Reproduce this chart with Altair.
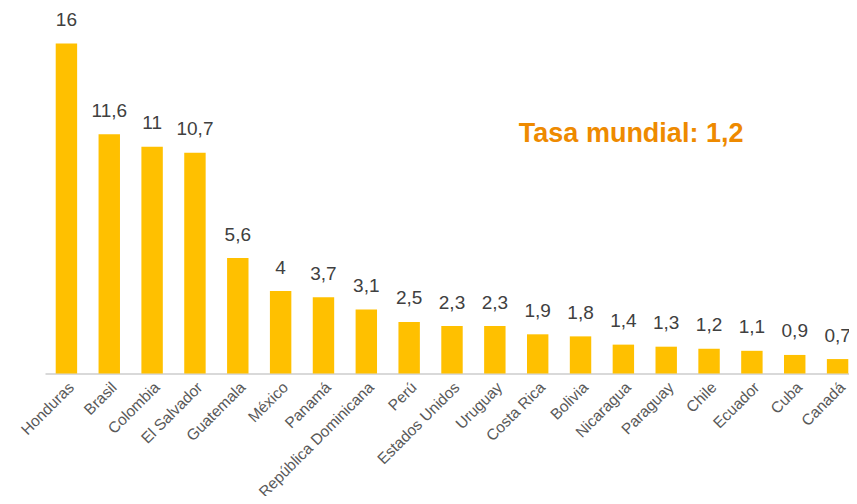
import altair as alt
import pandas as pd

countries = ["Honduras", "Brasil", "Colombia", "El Salvador", "Guatemala", "México",
             "Panamá", "República Dominicana", "Perú", "Estados Unidos", "Uruguay",
             "Costa Rica", "Bolivia", "Nicaragua", "Paraguay", "Chile", "Ecuador",
             "Cuba", "Canadá"]
rates = [16, 11.6, 11, 10.7, 5.6, 4, 3.7, 3.1, 2.5, 2.3, 2.3, 1.9, 1.8, 1.4, 1.3,
         1.2, 1.1, 0.9, 0.7]
labels = [str(v).replace(".", ",") for v in rates]

world_rate = 1.2
annot_category = ["Uruguay"]
annot_y = [11.24]
annot_text = ["Tasa mundial: " + str(world_rate).replace(".", ",")]

df = pd.DataFrame({"pais": countries, "tasa": rates, "label": labels})
adf = pd.DataFrame({"pais": annot_category, "y": annot_y, "text": annot_text})

FONT = "Liberation Sans"

x_scale = alt.Scale(paddingInner=0.5, paddingOuter=0.25)
x_enc = alt.X("pais:N", sort=countries, title=None, scale=x_scale,
              axis=alt.Axis(labelAngle=-45, labelFontSize=15.5, labelColor="#595959",
                            labelFont=FONT, ticks=False, domainColor="#D9D9D9",
                            domainWidth=2, labelPadding=6, labelLimit=300))
y_scale = alt.Scale(domain=[0, 16], nice=False)

bars = alt.Chart(df).mark_bar(color="#FFC000").encode(
    x=x_enc,
    y=alt.Y("tasa:Q", scale=y_scale, axis=None),
)

text = alt.Chart(df).mark_text(
    font=FONT, fontSize=19, color="#404040", baseline="alphabetic", dy=-17.5
).encode(
    x=alt.X("pais:N", sort=countries),
    y=alt.Y("tasa:Q", scale=y_scale),
    text="label:N",
)

annot = alt.Chart(adf).mark_text(
    font=FONT, fontSize=27, fontWeight="bold", color="#EE8A00",
    align="left", baseline="alphabetic", dx=24
).encode(
    x=alt.X("pais:N", sort=countries),
    y=alt.Y("y:Q", scale=y_scale),
    text="text:N",
)

chart = alt.layer(bars, text, annot).properties(
    width=814, height=330,
    autosize=alt.AutoSizeParams(type="none"),
    padding={"left": 37, "top": 35.5, "right": -10, "bottom": 122.5},
).configure_view(stroke=None)

chart.save("out.html", embed_options={"renderer": "svg", "actions": False})
